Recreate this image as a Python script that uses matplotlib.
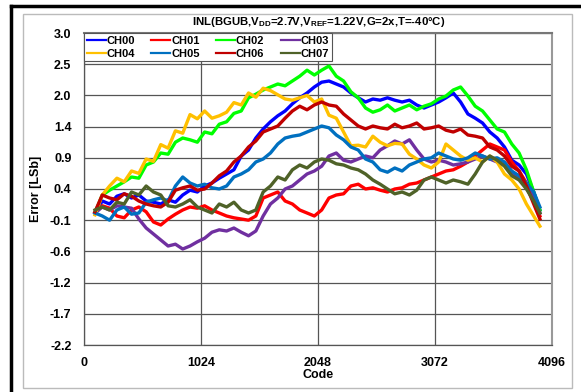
import matplotlib
matplotlib.use("Agg")
import matplotlib.pyplot as plt
from matplotlib.lines import Line2D
from matplotlib.patches import Rectangle

plt.rcParams['font.family'] = ['Liberation Sans', 'DejaVu Sans']
plt.rcParams['font.weight'] = 'bold'
plt.rcParams['mathtext.fontset'] = 'custom'
plt.rcParams['mathtext.rm'] = 'Liberation Sans:bold'
plt.rcParams['mathtext.default'] = 'rm'

codes = [96, 160, 224, 288, 352, 416, 480, 544, 608, 672, 736, 800, 864, 928, 992,
         1056, 1120, 1184, 1248, 1312, 1376, 1440, 1504, 1568, 1632, 1696, 1760, 1824,
         1888, 1952, 2016, 2080, 2144, 2208, 2272, 2336, 2400, 2464, 2528, 2592, 2656,
         2720, 2784, 2848, 2912, 2976, 3040, 3104, 3168, 3232, 3296, 3360, 3424, 3488,
         3552, 3616, 3680, 3744, 3808, 3872, 3936, 3990]

ch00 = [0.00, 0.20, 0.15, 0.28, 0.32, 0.25, 0.30, 0.20, 0.18, 0.15, 0.22, 0.18, 0.30, 0.38, 0.35,
        0.45, 0.50, 0.58, 0.65, 0.72, 0.95, 1.05, 1.25, 1.40, 1.52, 1.62, 1.70, 1.82, 1.92, 2.00,
        2.10, 2.18, 2.20, 2.15, 2.10, 2.00, 1.92, 1.85, 1.90, 1.88, 1.92, 1.88, 1.85, 1.88, 1.80,
        1.75, 1.80, 1.85, 1.92, 2.00, 1.85, 1.65, 1.58, 1.50, 1.35, 1.25, 1.10, 0.88, 0.80, 0.65,
        0.35, 0.05]
ch01 = [0.00, 0.12, 0.08, -0.05, -0.08, 0.05, 0.10, 0.02, -0.15, -0.20, -0.10, -0.02, 0.05, 0.10,
        0.08, 0.12, 0.05, 0.00, -0.05, -0.08, -0.10, -0.12, -0.05, 0.25, 0.30, 0.35, 0.20, 0.15,
        0.05, 0.00, -0.05, 0.05, 0.25, 0.30, 0.32, 0.45, 0.48, 0.40, 0.42, 0.38, 0.35, 0.40, 0.42,
        0.48, 0.50, 0.55, 0.60, 0.65, 0.70, 0.72, 0.78, 0.85, 0.95, 1.05, 1.15, 1.10, 1.05, 0.85,
        0.70, 0.50, 0.20, -0.05]
ch02 = [0.00, 0.30, 0.38, 0.45, 0.52, 0.60, 0.58, 0.80, 0.85, 1.00, 0.98, 1.18, 1.25, 1.22, 1.18,
        1.35, 1.32, 1.48, 1.52, 1.66, 1.70, 1.92, 1.98, 2.05, 2.10, 2.15, 2.12, 2.20, 2.28, 2.38,
        2.30, 2.38, 2.45, 2.28, 2.20, 2.02, 1.92, 1.75, 1.68, 1.72, 1.80, 1.70, 1.75, 1.80, 1.72,
        1.78, 1.82, 1.90, 1.95, 2.05, 2.10, 1.95, 1.78, 1.70, 1.55, 1.40, 1.35, 1.15, 1.00, 0.72,
        0.35, 0.05]
ch03 = [0.00, 0.10, 0.05, 0.12, 0.10, 0.08, -0.10, -0.25, -0.35, -0.45, -0.55, -0.52, -0.60, -0.55,
        -0.48, -0.42, -0.32, -0.28, -0.30, -0.25, -0.32, -0.38, -0.30, -0.05, 0.15, 0.25, 0.40,
        0.45, 0.55, 0.65, 0.70, 0.78, 0.95, 1.00, 0.88, 0.85, 0.90, 0.95, 0.92, 1.05, 1.12, 1.20,
        1.15, 1.22, 1.05, 0.90, 0.85, 0.88, 0.85, 0.80, 0.82, 0.85, 0.90, 0.95, 0.90, 0.85, 0.80,
        0.65, 0.60, 0.45, 0.25, 0.00]
ch04 = [-0.03, 0.30, 0.45, 0.58, 0.52, 0.70, 0.66, 0.90, 0.86, 1.14, 1.08, 1.37, 1.33, 1.64, 1.57,
        1.70, 1.58, 1.62, 1.68, 1.84, 1.80, 2.00, 1.93, 2.08, 2.04, 1.97, 1.90, 1.88, 1.92, 1.96,
        1.85, 1.90, 1.63, 1.58, 1.35, 1.12, 1.13, 1.10, 1.28, 1.18, 1.12, 1.16, 1.15, 0.98, 0.90,
        0.80, 0.75, 0.85, 1.15, 1.05, 0.95, 0.88, 0.92, 0.85, 0.95, 0.85, 0.65, 0.55, 0.40, 0.15,
        -0.05, -0.22]
ch05 = [0.00, -0.05, -0.12, 0.05, 0.10, -0.02, 0.00, 0.18, 0.22, 0.25, 0.20, 0.45, 0.60, 0.50,
        0.45, 0.48, 0.42, 0.40, 0.45, 0.60, 0.65, 0.72, 0.85, 0.90, 1.00, 1.15, 1.25, 1.28, 1.30,
        1.35, 1.40, 1.45, 1.42, 1.30, 1.22, 1.10, 1.05, 0.90, 0.85, 0.72, 0.68, 0.75, 0.70, 0.80,
        0.85, 0.90, 0.92, 1.00, 0.95, 0.90, 0.88, 0.92, 1.00, 0.95, 0.90, 0.92, 0.85, 0.70, 0.62,
        0.50, 0.35, 0.10]
ch06 = [0.02, 0.30, 0.25, 0.22, 0.32, 0.28, 0.20, 0.15, 0.12, 0.10, 0.18, 0.38, 0.42, 0.45, 0.38,
        0.40, 0.50, 0.62, 0.70, 0.85, 0.95, 1.10, 1.20, 1.35, 1.40, 1.45, 1.58, 1.70, 1.78, 1.72,
        1.80, 1.85, 1.80, 1.78, 1.65, 1.55, 1.45, 1.40, 1.45, 1.42, 1.40, 1.48, 1.42, 1.45, 1.50,
        1.40, 1.42, 1.45, 1.38, 1.35, 1.40, 1.30, 1.28, 1.25, 1.10, 1.05, 0.95, 0.78, 0.70, 0.45,
        0.15, -0.10]
ch07 = [0.05, 0.10, 0.05, 0.18, 0.15, 0.35, 0.30, 0.45, 0.35, 0.30, 0.12, 0.10, 0.15, 0.22, 0.10,
        0.05, 0.00, 0.15, 0.10, 0.18, 0.05, 0.00, 0.05, 0.35, 0.45, 0.60, 0.55, 0.72, 0.80, 0.75,
        0.85, 0.90, 0.88, 0.82, 0.80, 0.75, 0.72, 0.65, 0.55, 0.48, 0.40, 0.32, 0.35, 0.30, 0.38,
        0.55, 0.60, 0.55, 0.50, 0.55, 0.52, 0.48, 0.65, 0.85, 0.95, 0.88, 0.78, 0.62, 0.55, 0.40,
        0.20, 0.00]

names = ['CH00', 'CH01', 'CH02', 'CH03', 'CH04', 'CH05', 'CH06', 'CH07']
series = [ch00, ch01, ch02, ch03, ch04, ch05, ch06, ch07]
colors = ['#0000FF', '#FF0000', '#00FF00', '#7030A0', '#FFC000', '#0070C0', '#C00000', '#4F6228']

yticks = [-2.2, -1.68, -1.16, -0.64, -0.12, 0.40, 0.92, 1.44, 1.96, 2.48, 3.0]
xticks = [0, 1024, 2048, 3072, 4096]

W, H = 581, 392
fig = plt.figure(figsize=(W / 100, H / 100), dpi=100)
ax = fig.add_axes([84 / W, 1 - 345 / H, (552 - 84) / W, (345 - 33) / H])

lines = {}
for n, s, c in zip(names, series, colors):
    lines[n], = ax.plot(codes, s, color=c, lw=2.4, label=n)

ax.set_xlim(0, 4096)
ax.set_ylim(-2.2, 3.0)
ax.set_xticks(xticks)
ax.set_yticks(yticks)
ax.set_yticklabels([f"{v:.1f}" for v in yticks])
ax.grid(True, color='#555555', lw=0.9)
ax.set_axisbelow(True)
ax.tick_params(length=0, labelsize=9, pad=9)
for lab in ax.get_xticklabels() + ax.get_yticklabels():
    lab.set_fontweight('bold')
for sp in ax.spines.values():
    sp.set_color('#555555')
    sp.set_linewidth(0.9)
ax.spines['right'].set_color('#999999')
ax.spines['right'].set_linewidth(1.5)
ax.spines['top'].set_color('#777777')
ax.spines['top'].set_linewidth(1.5)

ax.set_xlabel('Code', fontsize=9, fontweight='bold', labelpad=0)
ax.set_ylabel('Error [LSb]', fontsize=9, fontweight='bold', labelpad=6)

order = ['CH00', 'CH04', 'CH01', 'CH05', 'CH02', 'CH06', 'CH03', 'CH07']
leg = ax.legend([lines[n] for n in order], order, ncol=4, loc='upper left',
                bbox_to_anchor=(0.0, 1.0), frameon=True, fancybox=False,
                edgecolor='#555555', framealpha=1, borderaxespad=0.0,
                handlelength=1.7, handletextpad=0.1, columnspacing=1.45,
                labelspacing=0.25, borderpad=0.25, prop={'weight': 'bold', 'size': 8})
leg.get_frame().set_linewidth(0.8)
for h in leg.get_lines():
    h.set_linewidth(1.6)

fig.text(319 / W, 1 - 22 / H,
         r'INL(BGUB,V$_{\mathrm{DD}}$=2.7V,V$_{\mathrm{REF}}$=1.22V,G=2x,T=-40°C)',
         ha='center', va='center', fontsize=8.2, fontweight='bold')

# outer frames
fig.add_artist(Rectangle((23 / W, 1 - 388 / H), (572 - 23) / W, (388 - 14) / H,
                         transform=fig.transFigure, fill=False, edgecolor='#BBBBBB', lw=1.0))
fig.add_artist(Line2D([11 / W, 1.0], [1 - 6 / H, 1 - 6 / H], transform=fig.transFigure,
                      color='black', lw=2.5))
fig.add_artist(Line2D([11 / W, 11 / W], [0, 1 - 6 / H], transform=fig.transFigure,
                      color='black', lw=2.5))

fig.savefig('out.png', dpi=100)
